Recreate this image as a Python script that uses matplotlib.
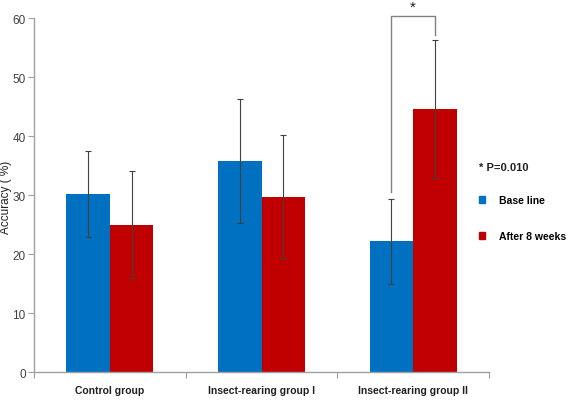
import matplotlib.pyplot as plt
import numpy as np

plt.rcParams['font.family'] = ['Liberation Sans', 'DejaVu Sans']

groups = ['Control group', 'Insect-rearing group I', 'Insect-rearing group II']
baseline = [30.2, 35.7, 22.2]
baseline_err = [7.3, 10.5, 7.2]
after = [25.0, 29.7, 44.5]
after_err = [9.0, 10.5, 11.8]
series_labels = ['Base line', 'After 8 weeks']
p_text = '* P=0.010'

fig = plt.figure(figsize=(5.69, 4.02), dpi=100)
ax = fig.add_axes([0.0598, 0.0721, 0.7996, 0.8806])

x = np.arange(len(groups))
w = 0.287
err_kw = dict(ecolor='#404040', elinewidth=0.8, capsize=2.5, capthick=0.8)
ax.bar(x - w / 2, baseline, w, yerr=baseline_err, color='#0070C0',
       error_kw=err_kw, zorder=2)
ax.bar(x + w / 2, after, w, yerr=after_err, color='#C00000',
       error_kw=err_kw, zorder=2)

ax.set_xlim(-0.5, 2.5)
ax.set_ylim(0, 60)
ax.set_yticks(range(0, 61, 10))
ax.tick_params(axis='y', labelsize=8.5, labelcolor='#404040', color='#a0a0a0',
               length=4, direction='out', pad=2)
ax.set_xticks([-0.5, 0.5, 1.5, 2.5])
ax.set_xticklabels([])
ax.tick_params(axis='x', which='major', color='#a0a0a0', length=4)
ax.set_xticks(x, minor=True)
ax.set_xticklabels(groups, minor=True, fontsize=7.5, fontweight='bold',
                   color='#202020')
ax.tick_params(axis='x', which='minor', length=0, pad=9)

for s in ['top', 'right']:
    ax.spines[s].set_visible(False)
for s in ['left', 'bottom']:
    ax.spines[s].set_color('#a0a0a0')
    ax.spines[s].set_linewidth(1)

fig.text(0.0, 0.51, 'Accuracy ( %)', rotation=90, ha='left', va='center',
         fontsize=8.5, color='#202020')

# significance bracket for group II
bl, br = 2 - w / 2, 2 + w / 2
ax.plot([bl, bl, br, br], [30.5, 60.3, 60.3, 57.1], color='#808080', lw=1,
        clip_on=False, zorder=3)
ax.text(2, 60.8, '*', ha='center', va='bottom', fontsize=11, color='#202020')

# legend
fig.text(0.842, 0.582, p_text, fontsize=8, fontweight='bold', color='#202020',
         va='center')
handles = [plt.Rectangle((0, 0), 1, 1, color=c) for c in ['#0070C0', '#C00000']]
fig.legend(handles, series_labels, loc='upper left', bbox_to_anchor=(0.825, 0.535),
           frameon=False, prop=dict(size=7.5, weight='bold'), handlelength=0.6,
           handleheight=0.6, labelspacing=2.5, handletextpad=1.3)

fig.savefig('out.png', dpi=100)
